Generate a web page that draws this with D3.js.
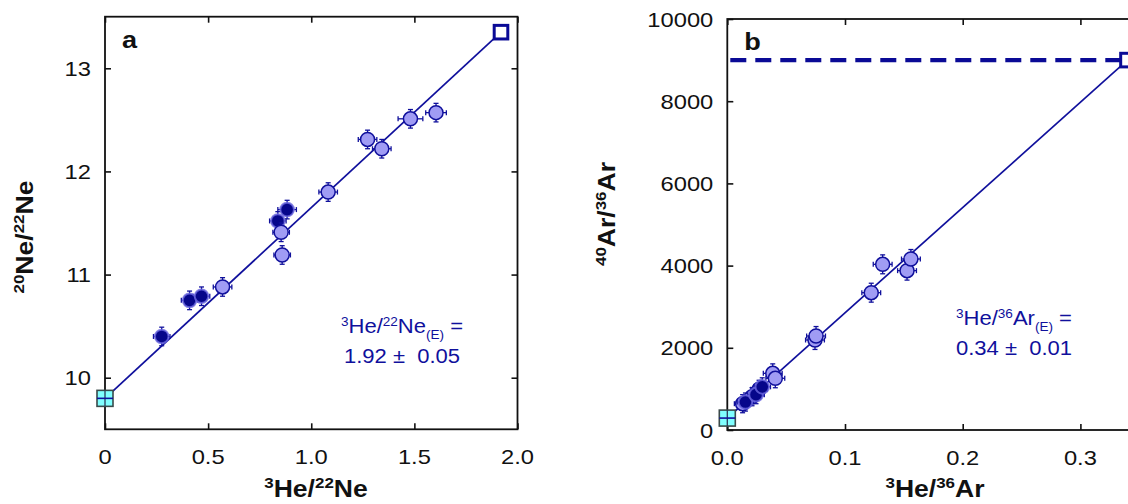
<!DOCTYPE html>
<html><head><meta charset="utf-8">
<script src="https://cdn.jsdelivr.net/npm/d3@7"></script>
<style>html,body{margin:0;padding:0;background:#fff;overflow:hidden}</style>
</head><body>
<svg id="c" width="1128" height="504"></svg>
<script>
// ---------- DATA ----------
// Panel a : 20Ne/22Ne vs 3He/22Ne
const neXTicks = [0, 0.5, 1.0, 1.5, 2.0];
const neXTickLabels = ["0", "0.5", "1.0", "1.5", "2.0"];
const neYTicks = [10, 11, 12, 13];
const neYTickLabels = ["10", "11", "12", "13"];
const neDarkX = [0.275, 0.410, 0.468, 0.838, 0.883];
const neDarkY = [10.40, 10.75, 10.79, 11.52, 11.63];
const neLightX = [0.570, 0.854, 0.859, 1.082, 1.273, 1.342, 1.481, 1.605];
const neLightY = [10.88, 11.41, 11.19, 11.80, 12.31, 12.22, 12.51, 12.57];
const neDarkXErr = [0.04, 0.04, 0.04, 0.04, 0.045];
const neDarkYErr = [0.09, 0.09, 0.09, 0.09, 0.09];
const neLightXErr = [0.045, 0.04, 0.04, 0.045, 0.045, 0.045, 0.06, 0.05];
const neLightYErr = [0.09, 0.09, 0.09, 0.09, 0.09, 0.09, 0.09, 0.09];
const neAir = [0, 9.80];
const neMantle = [1.92, 13.35];
const neFitText = ["1.92", "0.05"];

// Panel b : 40Ar/36Ar vs 3He/36Ar
const arXTicks = [0, 0.1, 0.2, 0.3, 0.4];
const arXLabelTicks = [0, 0.1, 0.2, 0.3];
const arXTickLabels = ["0.0", "0.1", "0.2", "0.3"];
const arYTicks = [0, 2000, 4000, 6000, 8000, 10000];
const arYTickLabels = ["0", "2000", "4000", "6000", "8000", "10000"];
const arLightX = [0.013, 0.021, 0.027, 0.0386, 0.0408, 0.0745, 0.0754, 0.1223, 0.132, 0.1527, 0.156];
const arLightY = [640, 810, 990, 1379, 1258, 2190, 2287, 3341, 4031, 3877, 4161];
const arDarkX = [0.0154, 0.0244, 0.0297];
const arDarkY = [680, 860, 1050];
const arLightXErr = [0.007, 0.007, 0.007, 0.008, 0.008, 0.008, 0.008, 0.008, 0.008, 0.008, 0.008];
const arLightYErr = [220, 220, 220, 230, 230, 230, 230, 230, 230, 230, 230];
const arDarkXErr = [0.007, 0.007, 0.007];
const arDarkYErr = [220, 220, 220];
const arAir = [0, 290];
const arMantle = [0.34, 9000];
const arFitText = ["0.34", "0.01"];

// ---------- STYLE ----------
const BLUE = "#10109c";
const LAV = "#a09cf4";
const DARK = "#06068a";
const SX = 1.13; // horizontal text stretch (wide font look)
const FONT = "Liberation Sans, Arial, Helvetica, sans-serif";

const svg = d3.select("#c");

function stext(g, x, y, parts, o) {
  o = o || {};
  const size = o.size || 21;
  const t = g.append("text")
    .attr("transform", `translate(${x},${y}) ${o.rotate ? "rotate(-90) " : ""}scale(${SX},1)`)
    .attr("text-anchor", o.anchor || "middle")
    .attr("font-family", FONT)
    .attr("font-size", size)
    .attr("font-weight", o.bold ? "bold" : "normal")
    .attr("fill", o.color || "#111")
    .style("white-space", "pre");
  if (typeof parts === "string") parts = [{ t: parts }];
  let shift = 0;
  parts.forEach(p => {
    const ts = t.append("tspan");
    let target = 0, fs = size;
    if (p.sup) { target = -Math.round(size * 0.38); fs = Math.round(size * 0.62); }
    if (p.sub) { target = Math.round(size * 0.3); fs = Math.round(size * 0.6); }
    ts.attr("dy", target - shift).attr("font-size", fs).text(p.t);
    shift = target;
  });
  return t;
}

function drawPanel(cfg) {
  const g = svg.append("g");
  const x = d3.scaleLinear().domain(cfg.xDomain).range(cfg.xRange);
  const y = d3.scaleLinear().domain(cfg.yDomain).range(cfg.yRange);
  const [x0, x1] = cfg.xRange, [y0, y1] = cfg.yRange;

  // axes with inward ticks on all four sides
  const axB = d3.axisBottom(x).tickValues(cfg.xTicks).tickSize(-6).tickFormat("");
  const axT = d3.axisTop(x).tickValues(cfg.xTicks).tickSize(-6).tickFormat("");
  const axL = d3.axisLeft(y).tickValues(cfg.yTicks).tickSize(-6).tickFormat("");
  const axR = d3.axisRight(y).tickValues(cfg.yTicks).tickSize(-6).tickFormat("");
  [[axB, `translate(0,${y0})`], [axT, `translate(0,${y1})`], [axL, `translate(${x0},0)`], [axR, `translate(${x1},0)`]]
    .forEach(([ax, tr]) => {
      const a = g.append("g").attr("transform", tr).call(ax);
      a.select(".domain").remove();
      a.selectAll("line").attr("stroke", "#111").attr("stroke-width", 1.6);
    });
  g.append("rect").attr("x", x0).attr("y", y1).attr("width", x1 - x0).attr("height", y0 - y1)
    .attr("fill", "none").attr("stroke", "#111").attr("stroke-width", 1.8);

  // tick labels
  cfg.xLabelTicks.forEach((v, i) => stext(g, x(v), y0 + 35, cfg.xTickLabels[i], { size: 21 }));
  cfg.yTicks.forEach((v, i) => stext(g, x0 - 14, y(v) + 7.5, cfg.yTickLabels[i], { size: 21, anchor: "end" }));

  // axis titles
  stext(g, cfg.xTitlePos[0], cfg.xTitlePos[1], cfg.xTitle, { size: 23.5, bold: true });
  stext(g, cfg.yTitlePos[0], cfg.yTitlePos[1], cfg.yTitle, { size: 23.5, bold: true, rotate: true });
  stext(g, x0 + 17, y1 + 31, cfg.label, { size: 24, bold: true, anchor: "start" });

  const plot = g.append("g");
  if (cfg.dash) {
    plot.append("line").attr("x1", x0 + 3).attr("x2", x(cfg.mantle[0]))
      .attr("y1", y(cfg.mantle[1])).attr("y2", y(cfg.mantle[1]))
      .attr("stroke", "#0a0a96").attr("stroke-width", 4.2).attr("stroke-dasharray", "16,9");
  }
  // mixing line
  plot.append("line")
    .attr("x1", x(cfg.air[0])).attr("y1", y(cfg.air[1]))
    .attr("x2", x(cfg.mantle[0])).attr("y2", y(cfg.mantle[1]))
    .attr("stroke", BLUE).attr("stroke-width", 1.7);

  function errbars(xs, ys, ex, ey) {
    xs.forEach((xv, i) => {
      const cx = x(xv), cy = y(ys[i]);
      const xa = x(xv - ex[i]), xb = x(xv + ex[i]);
      const ya = y(ys[i] - ey[i]), yb = y(ys[i] + ey[i]);
      const e = plot.append("g").attr("stroke", BLUE).attr("stroke-width", 1.3);
      e.append("line").attr("x1", xa).attr("x2", xb).attr("y1", cy).attr("y2", cy);
      e.append("line").attr("x1", cx).attr("x2", cx).attr("y1", ya).attr("y2", yb);
      e.append("line").attr("x1", xa).attr("x2", xa).attr("y1", cy - 2.5).attr("y2", cy + 2.5);
      e.append("line").attr("x1", xb).attr("x2", xb).attr("y1", cy - 2.5).attr("y2", cy + 2.5);
      e.append("line").attr("x1", cx - 2.5).attr("x2", cx + 2.5).attr("y1", ya).attr("y2", ya);
      e.append("line").attr("x1", cx - 2.5).attr("x2", cx + 2.5).attr("y1", yb).attr("y2", yb);
    });
  }
  function light(xs, ys, ex, ey) {
    errbars(xs, ys, ex, ey);
    xs.forEach((xv, i) => plot.append("circle").attr("cx", x(xv)).attr("cy", y(ys[i])).attr("r", 7)
      .attr("fill", LAV).attr("stroke", BLUE).attr("stroke-width", 1.5));
  }
  function dark(xs, ys, ex, ey) {
    errbars(xs, ys, ex, ey);
    xs.forEach((xv, i) => plot.append("circle").attr("cx", x(xv)).attr("cy", y(ys[i])).attr("r", 6.8)
      .attr("fill", DARK).attr("stroke", "#6c68e0").attr("stroke-width", 2).attr("stroke-opacity", 0.8));
  }
  if (cfg.darkFirst) {
    dark(cfg.darkX, cfg.darkY, cfg.darkXErr, cfg.darkYErr);
    light(cfg.lightX, cfg.lightY, cfg.lightXErr, cfg.lightYErr);
  } else {
    light(cfg.lightX, cfg.lightY, cfg.lightXErr, cfg.lightYErr);
    dark(cfg.darkX, cfg.darkY, cfg.darkXErr, cfg.darkYErr);
  }

  // air end-member (cyan square with cross)
  const ax = x(cfg.air[0]), ay = y(cfg.air[1]);
  plot.append("rect").attr("x", ax - 8).attr("y", ay - 8).attr("width", 16).attr("height", 16)
    .attr("fill", "#80ffff").attr("stroke", "#3a4a4a").attr("stroke-width", 1.6);
  plot.append("line").attr("x1", ax).attr("x2", ax).attr("y1", ay - 8).attr("y2", ay + 8)
    .attr("stroke", "#2a3a5a").attr("stroke-width", 1.3);
  plot.append("line").attr("x1", ax - 8).attr("x2", ax + 8).attr("y1", ay).attr("y2", ay)
    .attr("stroke", BLUE).attr("stroke-width", 1.6);

  // mantle end-member (open square)
  const mx = x(cfg.mantle[0]), my = y(cfg.mantle[1]);
  plot.append("rect").attr("x", mx - 6.8).attr("y", my - 6.8).attr("width", 13.6).attr("height", 13.6)
    .attr("fill", "#fff").attr("stroke", "#0a0a96").attr("stroke-width", 3);

  // annotation
  const [tx, ty] = cfg.textPos;
  stext(g, tx, ty, cfg.annot, { size: 19.5, color: BLUE });
  stext(g, tx, ty + 29.5, cfg.fitText[0] + " \u00B1\u00A0 " + cfg.fitText[1], { size: 19.5, color: BLUE });
}

drawPanel({
  xDomain: [0, 2], xRange: [105, 517.5],
  yDomain: [9.5, 13.5], yRange: [429.3, 16.7],
  xTicks: neXTicks, xLabelTicks: neXTicks, xTickLabels: neXTickLabels,
  yTicks: neYTicks, yTickLabels: neYTickLabels,
  xTitle: [{ t: "3", sup: true }, { t: "He/" }, { t: "22", sup: true }, { t: "Ne" }],
  yTitle: [{ t: "20", sup: true }, { t: "Ne/" }, { t: "22", sup: true }, { t: "Ne" }],
  xTitlePos: [316, 497], yTitlePos: [33, 237],
  label: "a",
  darkX: neDarkX, darkY: neDarkY, darkXErr: neDarkXErr, darkYErr: neDarkYErr,
  lightX: neLightX, lightY: neLightY, lightXErr: neLightXErr, lightYErr: neLightYErr,
  darkFirst: true,
  air: neAir, mantle: neMantle, dash: false,
  annot: [{ t: "3", sup: true }, { t: "He/" }, { t: "22", sup: true }, { t: "Ne" }, { t: "(E)", sub: true }, { t: " =" }],
  fitText: neFitText, textPos: [402, 333.4]
});

drawPanel({
  xDomain: [0, 0.4], xRange: [727.3, 1198.1],
  yDomain: [0, 10000], yRange: [430, 19],
  xTicks: arXTicks, xLabelTicks: arXLabelTicks, xTickLabels: arXTickLabels,
  yTicks: arYTicks, yTickLabels: arYTickLabels,
  xTitle: [{ t: "3", sup: true }, { t: "He/" }, { t: "36", sup: true }, { t: "Ar" }],
  yTitle: [{ t: "40", sup: true }, { t: "Ar/" }, { t: "36", sup: true }, { t: "Ar" }],
  xTitlePos: [935, 497], yTitlePos: [615, 214],
  label: "b",
  darkX: arDarkX, darkY: arDarkY, darkXErr: arDarkXErr, darkYErr: arDarkYErr,
  lightX: arLightX, lightY: arLightY, lightXErr: arLightXErr, lightYErr: arLightYErr,
  darkFirst: false,
  air: arAir, mantle: arMantle, dash: true,
  annot: [{ t: "3", sup: true }, { t: "He/" }, { t: "36", sup: true }, { t: "Ar" }, { t: "(E)", sub: true }, { t: " =" }],
  fitText: arFitText, textPos: [1014, 325]
});
</script>
</body></html>
